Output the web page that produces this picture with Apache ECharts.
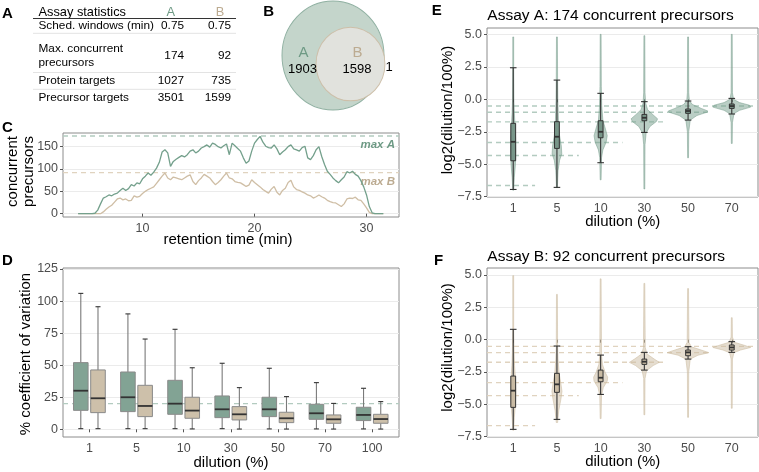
<!DOCTYPE html>
<html>
<head>
<meta charset="utf-8">
<script src="https://cdn.jsdelivr.net/npm/echarts@6/dist/echarts.min.js"></script>
<style>
html, body { margin: 0; padding: 0; background: #fff; }
#main { width: 759px; height: 472px; }
</style>
</head>
<body>
<div id="main"></div>
<script>
// ---------- data ----------
var tableRows = ['Sched. windows (min)', 'Max. concurrent\nprecursors', 'Protein targets', 'Precursor targets'];
var tableA = ['0.75', '174', '1027', '3501'];
var tableB = ['0.75', '92', '735', '1599'];

// venn: A only, A&B, B only
var vennCounts = [1903, 1598, 1];

var maxConcurrent = [174, 92];
var maxLabels = ['max A', 'max B'];

// concurrent precursors over retention time (min)
var concA = [[4.25,0],[4.5,0],[4.75,0],[5,0],[5.25,0],[5.5,0],[5.75,1],[6,8],[6.25,22],[6.5,35],[6.75,38],[7,42],[7.25,40],[7.5,44],[7.75,46],[8,52],[8.25,57],[8.5,52],[8.75,56],[9,65],[9.25,62],[9.5,69],[9.75,67],[10,78],[10.25,84],[10.5,91],[10.75,86],[11,93],[11.25,102],[11.5,115],[11.75,138],[12,143],[12.25,136],[12.5,106],[12.75,117],[13,122],[13.25,126],[13.5,130],[13.75,127],[14,132],[14.25,140],[14.5,143],[14.75,136],[15,140],[15.25,147],[15.5,150],[15.75,154],[16,149],[16.25,158],[16.5,155],[16.75,150],[17,147],[17.25,152],[17.5,156],[17.75,132],[18,158],[18.25,152],[18.5,146],[18.75,140],[19,125],[19.25,113],[19.5,118],[19.75,140],[20,158],[20.25,166],[20.5,173],[20.75,160],[21,151],[21.25,148],[21.5,147],[21.75,154],[22,145],[22.25,132],[22.5,138],[22.75,143],[23,150],[23.25,154],[23.5,145],[23.75,143],[24,140],[24.25,148],[24.5,151],[24.75,125],[25,121],[25.25,130],[25.5,143],[25.75,150],[26,128],[26.25,110],[26.5,95],[26.75,88],[27,80],[27.25,74],[27.5,69],[27.75,76],[28,82],[28.25,94],[28.5,91],[28.75,95],[29,88],[29.25,84],[29.5,74],[29.75,60],[30,42],[30.25,16],[30.5,2],[30.75,0],[31,0],[31.25,0],[31.5,0]];
var concB = [[4.25,0],[4.5,0],[4.75,0],[5,0],[5.25,0],[5.5,0],[5.75,0],[6,0],[6.25,0],[6.5,4],[6.75,10],[7,15],[7.25,19],[7.5,26],[7.75,33],[8,35],[8.25,31],[8.5,33],[8.75,29],[9,30],[9.25,40],[9.5,37],[9.75,39],[10,45],[10.25,50],[10.5,54],[10.75,57],[11,60],[11.25,68],[11.5,76],[11.75,84],[12,91],[12.25,80],[12.5,76],[12.75,82],[13,80],[13.25,78],[13.5,76],[13.75,80],[14,84],[14.25,87],[14.5,72],[14.75,65],[15,74],[15.25,80],[15.5,88],[15.75,84],[16,80],[16.25,72],[16.5,65],[16.75,70],[17,76],[17.25,84],[17.5,91],[17.75,80],[18,78],[18.25,72],[18.5,70],[18.75,69],[19,65],[19.25,61],[19.5,64],[19.75,76],[20,70],[20.25,65],[20.5,60],[20.75,54],[21,50],[21.25,46],[21.5,55],[21.75,61],[22,48],[22.25,42],[22.5,52],[22.75,57],[23,70],[23.25,75],[23.5,60],[23.75,54],[24,52],[24.25,49],[24.5,46],[24.75,42],[25,40],[25.25,35],[25.5,38],[25.75,42],[26,38],[26.25,35],[26.5,30],[26.75,27],[27,25],[27.25,24],[27.5,20],[27.75,16],[28,22],[28.25,33],[28.5,35],[28.75,34],[29,37],[29.25,31],[29.5,30],[29.75,22],[30,13],[30.25,3],[30.5,0],[30.75,0],[31,0],[31.25,0],[31.5,0]];
var rtTicks = [10, 20, 30];
var concTicks = [0, 50, 100, 150];

// % CV boxplots: [low whisker, q1, median, q3, high whisker]
var dilutions = ['1', '5', '10', '30', '50', '70', '100'];
var cvA = [[0.5,14.8,30.1,52,106],[0.5,13.8,25,44.7,90],[0.5,11.7,20,38.2,78],[0.5,9.1,15.6,26,51.5],[0.3,9.9,15.6,25,47.6],[0.3,7.8,12.5,19.5,36.4],[0.3,6.8,11.2,17.2,32]];
var cvB = [[0.5,13,24.2,46.3,95.6],[0.5,9.9,18.2,34.3,70.4],[0.3,8.6,14.6,25,48],[0.2,7.3,11.7,17.7,32.5],[0.2,5.2,8.6,13.3,25.5],[0.2,4.7,7.8,11.2,20.2],[0.2,4.7,8,11.7,21.6]];
var cvThreshold = 20;
var cvTicks = [0, 25, 50, 75, 100, 125];

// log2 ratio violins (E: assay A, F: assay B)
var violinDilutions = ['1', '5', '10', '30', '50', '70'];
var expectedLog2 = [-6.64, -4.32, -3.32, -1.74, -1.0, -0.515];
var boxA = [[-6.94,-4.73,-3.27,-1.85,2.43],[-6.78,-3.78,-2.88,-1.72,1.48],[-4.88,-2.96,-2.5,-1.65,0.46],[-2.55,-1.65,-1.42,-1.16,-0.18],[-1.6,-1.08,-0.9,-0.75,-0.13],[-1.13,-0.7,-0.52,-0.36,0.07]];
var boxB = [[-6.93,-5.23,-3.94,-2.81,0.8],[-6.16,-4.07,-3.45,-2.6,-0.49],[-4.23,-3.25,-2.94,-2.35,-1.19],[-2.35,-1.91,-1.7,-1.5,-0.98],[-1.5,-1.24,-0.98,-0.8,-0.54],[-0.98,-0.8,-0.6,-0.41,-0.15]];
// violin density profiles: [log2 ratio, relative density]
var violinA = [
  [[-7.0,0.02],[-6.0,0.05],[-5.0,0.1],[-4.0,0.12],[-3.0,0.11],[-2.0,0.08],[-1.0,0.05],[0,0.03],[2.5,0.02],[4.8,0.02]],
  [[-6.8,0.02],[-5.5,0.05],[-4.7,0.12],[-4.2,0.22],[-3.6,0.2],[-2.8,0.12],[-1.7,0.07],[0,0.04],[1.5,0.03],[4.8,0.02]],
  [[-6.2,0.02],[-4.5,0.04],[-3.9,0.1],[-3.3,0.25],[-2.8,0.3],[-2.3,0.22],[-1.6,0.1],[-0.5,0.05],[1,0.03],[5,0.02]],
  [[-6.9,0.02],[-3.5,0.03],[-2.6,0.08],[-2.1,0.25],[-1.7,0.55],[-1.5,0.6],[-1.2,0.4],[-0.8,0.15],[-0.3,0.06],[0.5,0.03],[4.9,0.02]],
  [[-4.5,0.02],[-2.5,0.03],[-1.6,0.1],[-1.25,0.4],[-1.0,0.85],[-0.9,0.9],[-0.7,0.6],[-0.4,0.2],[-0.1,0.06],[0.5,0.03],[4.8,0.02]],
  [[-3.4,0.02],[-1.8,0.03],[-1.1,0.1],[-0.85,0.35],[-0.6,0.86],[-0.45,0.8],[-0.25,0.35],[0,0.08],[0.5,0.03],[5,0.02]]
];
var violinB = [
  [[-7.0,0.02],[-6.0,0.05],[-5.0,0.1],[-4.0,0.12],[-3.0,0.1],[-2.0,0.06],[-1.0,0.04],[0.8,0.02],[4.95,0.02]],
  [[-6.4,0.03],[-5.5,0.08],[-4.6,0.18],[-4.0,0.23],[-3.4,0.18],[-2.6,0.1],[-1.5,0.05],[-0.5,0.03],[3.5,0.02]],
  [[-6.1,0.02],[-4.3,0.04],[-3.7,0.12],[-3.2,0.3],[-2.9,0.32],[-2.5,0.2],[-1.9,0.08],[-1.2,0.04],[4.7,0.02]],
  [[-5.8,0.02],[-3.0,0.03],[-2.4,0.1],[-2.0,0.4],[-1.75,0.68],[-1.5,0.45],[-1.1,0.12],[-0.6,0.04],[4.35,0.02]],
  [[-6.0,0.02],[-2.5,0.03],[-1.5,0.1],[-1.2,0.45],[-1.0,0.95],[-0.8,0.6],[-0.55,0.15],[-0.2,0.04],[3.95,0.02]],
  [[-5.3,0.02],[-1.5,0.03],[-1.0,0.1],[-0.8,0.4],[-0.6,0.86],[-0.45,0.6],[-0.2,0.12],[0.2,0.03],[1.7,0.02]]
];
var log2Ticks = [-7.5, -5, -2.5, 0, 2.5, 5];

// ---------- styling ----------
var FONT = '"Liberation Sans", Arial, Helvetica, sans-serif';
var GREEN = '#74a08c', TAN = '#cfbea5';
var GREEN_TXT = '#6e9a85', TAN_TXT = '#bcab91';
var GREEN_DASH = '#b3cbc0', TAN_DASH = '#e0d3bf';

function txt(x, y, s, size, st, rot) {
  var style = { text: s, fontSize: size, fontFamily: FONT, fill: '#000', align: 'left', verticalAlign: 'middle' };
  for (var k in st) style[k] = st[k];
  return { type: 'text', x: x, y: y, rotation: rot || 0, style: style, z: 10 };
}
function hline(x1, y1, x2, color, w) {
  return { type: 'line', shape: { x1: x1, y1: y1, x2: x2, y2: y1 }, style: { stroke: color, lineWidth: w }, z: 10 };
}
function fmtLog(v) { return (v < 0 ? '\u2212' : '') + Math.abs(v).toFixed(1); }

function xAxisOf(grid, min, max, ticks, fmt) {
  return {
    type: 'value', gridIndex: grid, min: min, max: max,
    axisLine: { show: false }, splitLine: { show: false },
    axisTick: { customValues: ticks, length: 3, lineStyle: { color: '#555' } },
    axisLabel: { customValues: ticks, formatter: fmt, margin: 5, fontSize: 12.5, color: '#4d4d4d', fontFamily: FONT }
  };
}
function yAxisOf(grid, min, max, ticks, fmt) {
  return {
    type: 'value', gridIndex: grid, min: min, max: max,
    axisLine: { show: false },
    splitLine: { show: true, lineStyle: { color: '#ebebeb', width: 1 } },
    axisTick: { customValues: ticks, length: 3, lineStyle: { color: '#555' } },
    axisLabel: { customValues: ticks, formatter: fmt, margin: 5, fontSize: 12.5, color: '#4d4d4d', fontFamily: FONT }
  };
}

// dashed reference lines: item = [xStart, xEnd, y]
function dashRender(colors, labels) {
  return function (params, api) {
    var a = api.coord([api.value(0), api.value(2)]);
    var b = api.coord([api.value(1), api.value(2)]);
    var c = colors[params.dataIndex % colors.length];
    var kids = [{ type: 'line', shape: { x1: a[0], y1: a[1], x2: b[0], y2: b[1] },
      style: { stroke: c.line, lineWidth: 1.4, lineDash: [5, 4] } }];
    if (labels) {
      kids.push({ type: 'text', style: { text: labels[params.dataIndex], x: b[0] - 4, y: a[1] + 3,
        align: 'right', verticalAlign: 'top', fontSize: 11.5, fontWeight: 'bold', fontStyle: 'italic',
        fontFamily: FONT, fill: c.text } });
    }
    return { type: 'group', children: kids };
  };
}

// boxplot item: [x, low, q1, med, q3, high]
function boxParts(api, cx, half, cap, fill, edge, whisk) {
  var yl = api.coord([api.value(0), api.value(1)])[1];
  var y1 = api.coord([api.value(0), api.value(2)])[1];
  var ym = api.coord([api.value(0), api.value(3)])[1];
  var y3 = api.coord([api.value(0), api.value(4)])[1];
  var yh = api.coord([api.value(0), api.value(5)])[1];
  return [
    { type: 'line', shape: { x1: cx, y1: yh, x2: cx, y2: y3 }, style: { stroke: whisk, lineWidth: 1.1 } },
    { type: 'line', shape: { x1: cx, y1: y1, x2: cx, y2: yl }, style: { stroke: whisk, lineWidth: 1.1 } },
    { type: 'line', shape: { x1: cx - cap, y1: yh, x2: cx + cap, y2: yh }, style: { stroke: '#333', lineWidth: 1.1 } },
    { type: 'line', shape: { x1: cx - cap, y1: yl, x2: cx + cap, y2: yl }, style: { stroke: '#333', lineWidth: 1.1 } },
    { type: 'rect', shape: { x: cx - half, y: y3, width: 2 * half, height: y1 - y3 }, style: { fill: fill, stroke: edge, lineWidth: 1 } },
    { type: 'line', shape: { x1: cx - half, y1: ym, x2: cx + half, y2: ym }, style: { stroke: '#333', lineWidth: 1.8 } }
  ];
}
function cvBoxRender(offset, fill) {
  return function (params, api) {
    var cx = api.coord([api.value(0), 0])[0] + offset;
    return { type: 'group', children: boxParts(api, cx, 7.3, 2.5, fill, '#8a8a8a', '#7a7a7a') };
  };
}
function violinRender(profiles, fill, edge, boxFill) {
  return function (params, api) {
    var xv = api.value(0);
    var cx = api.coord([xv, 0])[0];
    var prof = profiles[params.dataIndex];
    var pts = [], i, p;
    for (i = 0; i < prof.length; i++) {
      p = api.coord([xv, prof[i][0]]);
      pts.push([cx + prof[i][1] * 22, p[1]]);
    }
    for (i = prof.length - 1; i >= 0; i--) {
      p = api.coord([xv, prof[i][0]]);
      pts.push([cx - prof[i][1] * 22, p[1]]);
    }
    var kids = [{ type: 'polygon', shape: { points: pts }, style: { fill: fill, stroke: edge, lineWidth: 0.7 } }];
    return { type: 'group', children: kids.concat(boxParts(api, cx, 2.4, 3.3, boxFill, '#333', '#333')) };
  };
}

function withIndex(rows) {
  var out = [];
  for (var i = 0; i < rows.length; i++) out.push([i + 1].concat(rows[i]));
  return out;
}
function dashItems(vals, left, right) {
  var out = [];
  for (var i = 0; i < vals.length; i++) out.push([left, Math.min(i + 1.5, right), vals[i]]);
  return out;
}
// ellipse drawn as a scaled unit circle (the venn is stretched a little vertically)
function ellipse(cx, cy, rx, ry, fill, stroke, z) {
  return { type: 'circle', x: cx, y: cy, scaleX: rx, scaleY: ry, shape: { cx: 0, cy: 0, r: 1 },
    style: { fill: fill, stroke: stroke, lineWidth: 1, strokeNoScale: true }, z: z };
}

// ---------- panel A (table) and B (venn) ----------
var g = [];
g.push(txt(2, 14.3, 'A', 15, { fontWeight: 'bold' }));
g.push(txt(38.5, 12.7, 'Assay statistics', 12.8));
g.push(txt(170.8, 12.7, 'A', 12.8, { fill: GREEN_TXT, align: 'center' }));
g.push(txt(220, 12.7, 'B', 12.8, { fill: TAN_TXT, align: 'center' }));
g.push(hline(33, 18.5, 236, '#333', 1));
var rowY = [25.7, 55.5, 81, 97.5];
var sepY = [33.3, 72.5, 89.3];
for (var r = 0; r < tableRows.length; r++) {
  g.push(txt(38.5, rowY[r], tableRows[r], 11.8, { lineHeight: 13.6 }));
  g.push(txt(184, rowY[r], tableA[r], 11.8, { align: 'right' }));
  g.push(txt(231, rowY[r], tableB[r], 11.8, { align: 'right' }));
  if (r < sepY.length) g.push(hline(33, sepY[r], 236, '#e3e3e3', 1));
}

var kB = Math.sqrt((vennCounts[1] + vennCounts[2]) / (vennCounts[0] + vennCounts[1]));
g.push(txt(263.3, 12.3, 'B', 15, { fontWeight: 'bold' }));
g.push(ellipse(333, 55.5, 51, 54.5, '#c4d5cb', '#8fb0a1', 5));
g.push(ellipse(350.5, 64, 51 * kB, 54.5 * kB, '#e1e2dd', '#cdbfa9', 6));
g.push(txt(303.5, 52.5, 'A', 15, { fill: GREEN_TXT, align: 'center' }));
g.push(txt(302.5, 69, String(vennCounts[0]), 13, { align: 'center' }));
g.push(txt(357.5, 52.5, 'B', 15, { fill: TAN_TXT, align: 'center' }));
g.push(txt(357, 69, String(vennCounts[1]), 13, { align: 'center' }));
g.push(txt(389, 67, String(vennCounts[2]), 13, { align: 'center' }));

// panel letters, titles, axis names
g.push(txt(2, 128, 'C', 15, { fontWeight: 'bold' }));
g.push(txt(2, 261, 'D', 15, { fontWeight: 'bold' }));
g.push(txt(431.7, 11, 'E', 15, { fontWeight: 'bold' }));
g.push(txt(434, 261, 'F', 15, { fontWeight: 'bold' }));
g.push(txt(487.3, 15.7, 'Assay A: ' + maxConcurrent[0] + ' concurrent precursors', 15.5));
g.push(txt(487.3, 256.7, 'Assay B: ' + maxConcurrent[1] + ' concurrent precursors', 15.5));
g.push(txt(228, 239.5, 'retention time (min)', 15, { align: 'center' }));
g.push(txt(21, 171.5, 'concurrent\nprecursors', 15, { align: 'center', lineHeight: 15.5 }, Math.PI / 2));
g.push(txt(231, 463, 'dilution (%)', 15, { align: 'center' }));
g.push(txt(25.7, 354, '% coefficient of variation', 15, { align: 'center' }, Math.PI / 2));
g.push(txt(622.7, 222.3, 'dilution (%)', 15, { align: 'center' }));
g.push(txt(448.3, 110, 'log2(dilution/100%)', 15, { align: 'center' }, Math.PI / 2));
g.push(txt(622.7, 461.5, 'dilution (%)', 15, { align: 'center' }));
g.push(txt(448.3, 347.5, 'log2(dilution/100%)', 15, { align: 'center' }, Math.PI / 2));

// ---------- chart ----------
var chart = echarts.init(document.getElementById('main'));
var gridStyle = { show: true, borderColor: '#8c8c8c', borderWidth: 1, backgroundColor: '#fff' };
function gridAt(l, t, w, h) {
  return Object.assign({ left: l, top: t, width: w, height: h }, gridStyle);
}
var dilFmt = function (v) { return dilutions[Math.round(v) - 1]; };

var option = {
  animation: false,
  backgroundColor: '#fff',
  textStyle: { fontFamily: FONT },
  graphic: { elements: g },
  grid: [gridAt(63, 133, 336, 84), gridAt(63, 268, 336, 169), gridAt(487, 28, 271, 169), gridAt(487, 268, 271, 169)],
  xAxis: [
    xAxisOf(0, 2.9, 32.9, rtTicks),
    xAxisOf(1, 0.44, 7.57, [1, 2, 3, 4, 5, 6, 7], dilFmt),
    xAxisOf(2, 0.4, 6.6, [1, 2, 3, 4, 5, 6], dilFmt),
    xAxisOf(3, 0.4, 6.6, [1, 2, 3, 4, 5, 6], dilFmt)
  ],
  yAxis: [
    yAxisOf(0, -7.4, 180.6, concTicks),
    yAxisOf(1, -6.0, 125.8, cvTicks),
    yAxisOf(2, -7.52, 5.49, log2Ticks, fmtLog),
    yAxisOf(3, -7.52, 5.54, log2Ticks, fmtLog)
  ],
  series: [
    { type: 'custom', xAxisIndex: 0, yAxisIndex: 0, clip: true,
      data: [[2.9, 32.9, maxConcurrent[0]], [2.9, 32.9, maxConcurrent[1]]],
      renderItem: dashRender([{ line: GREEN_DASH, text: GREEN_TXT }, { line: TAN_DASH, text: TAN_TXT }], maxLabels) },
    { type: 'line', xAxisIndex: 0, yAxisIndex: 0, data: concB, symbol: 'none',
      lineStyle: { color: TAN, width: 1.3 } },
    { type: 'line', xAxisIndex: 0, yAxisIndex: 0, data: concA, symbol: 'none',
      lineStyle: { color: GREEN, width: 1.3 } },

    { type: 'custom', xAxisIndex: 1, yAxisIndex: 1, clip: true,
      data: [[0.44, 7.57, cvThreshold]], renderItem: dashRender([{ line: GREEN_DASH }]) },
    { type: 'custom', xAxisIndex: 1, yAxisIndex: 1, clip: true, data: withIndex(cvA),
      encode: { x: 0, y: 1 }, renderItem: cvBoxRender(-8.6, '#82a394') },
    { type: 'custom', xAxisIndex: 1, yAxisIndex: 1, clip: true, data: withIndex(cvB),
      encode: { x: 0, y: 1 }, renderItem: cvBoxRender(8.6, '#cdc0aa') },

    { type: 'custom', xAxisIndex: 2, yAxisIndex: 2, clip: true,
      data: dashItems(expectedLog2, 0.4, 6.6), renderItem: dashRender([{ line: GREEN_DASH }]) },
    { type: 'custom', xAxisIndex: 2, yAxisIndex: 2, clip: true, data: withIndex(boxA),
      encode: { x: 0, y: 1 }, renderItem: violinRender(violinA, 'rgba(118,157,140,0.5)', 'rgba(118,157,140,0.75)', '#789689') },

    { type: 'custom', xAxisIndex: 3, yAxisIndex: 3, clip: true,
      data: dashItems(expectedLog2, 0.4, 6.6), renderItem: dashRender([{ line: TAN_DASH }]) },
    { type: 'custom', xAxisIndex: 3, yAxisIndex: 3, clip: true, data: withIndex(boxB),
      encode: { x: 0, y: 1 }, renderItem: violinRender(violinB, 'rgba(204,188,162,0.5)', 'rgba(204,188,162,0.8)', '#c9bba4') }
  ]
};
chart.setOption(option);
</script>
</body>
</html>
